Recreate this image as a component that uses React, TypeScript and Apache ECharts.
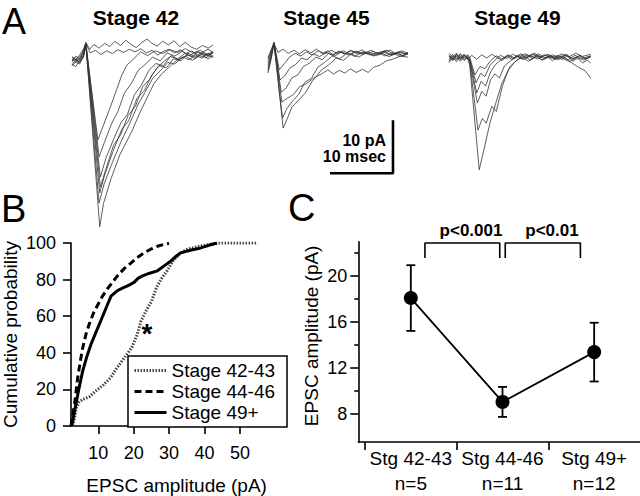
import React, { useEffect, useRef } from "react";
import * as echarts from "echarts";

const FONT = '"Liberation Sans", Arial, Helvetica, sans-serif';

// ---------------- Panel A: EPSC traces (t in ms, current in pA) ----------------
const stageTitles = ["Stage 42", "Stage 45", "Stage 49"];

const stage42Traces: number[][][] = [
  [[0,-1.6],[0.5,-1.0],[1.0,-1.4],[1.5,-0.6],[2.2,2.0],[4.4,-32.6],[5.0,-28.2],[6.2,-23.5],[7.6,-19],[9.5,-14.6],[10.8,-11],[11.9,-8.3],[13.0,-5.6],[14.2,-3.8],[15.5,-2.4],[16.6,-1.2],[17.6,-0.6],[18.6,-1.1],[19.6,-0.2],[20.6,-0.8],[21.5,0.1],[22.4,-0.5]],
  [[0,-2.2],[0.6,-1.5],[1.2,-1.9],[1.7,-0.8],[2.2,1.8],[4.3,-28.1],[5.1,-24.5],[6.4,-20.5],[7.8,-16.5],[9.2,-13],[10.5,-9.5],[11.6,-7.2],[12.8,-4.6],[14.0,-3.2],[15.2,-1.6],[16.3,-1.9],[17.4,-0.7],[18.5,-0.2],[19.6,-0.9],[20.7,0.3],[21.6,-0.4],[22.4,0.2]],
  [[0,-0.9],[0.6,-1.6],[1.2,-0.8],[1.8,-0.3],[2.2,1.9],[4.4,-26.2],[5.2,-22.8],[6.5,-18.4],[7.9,-14.2],[9.0,-12.6],[10.3,-8.4],[11.5,-6.9],[12.6,-4.1],[13.8,-2.2],[15.0,-2.6],[16.1,-0.9],[17.3,-1.3],[18.4,0.2],[19.5,-0.6],[20.6,-0.1],[21.6,-0.9],[22.4,-0.3]],
  [[0,-1.9],[0.6,-2.4],[1.2,-1.2],[1.8,-0.7],[2.2,1.6],[4.5,-25.1],[5.3,-22],[6.6,-17.2],[7.7,-15.3],[8.9,-11.6],[10.1,-9.8],[11.2,-6.2],[12.3,-4.8],[13.5,-2.6],[14.6,-1.4],[15.8,-0.3],[16.9,-1.1],[18.0,-0.4],[19.1,-1.2],[20.2,-0.3],[21.3,-0.7],[22.4,0.3]],
  [[0,-1.3],[0.6,-0.7],[1.2,-1.7],[1.8,-0.4],[2.2,1.7],[4.5,-23.2],[5.4,-19.6],[6.7,-15.8],[7.8,-12.9],[8.8,-11.4],[9.9,-7.7],[11.0,-5.9],[12.2,-3.1],[13.3,-1.8],[14.5,-2.2],[15.6,-0.5],[16.8,-0.9],[17.9,0.1],[19.0,-0.5],[20.1,0.4],[21.2,-0.2],[22.4,-0.6]],
  [[0,-0.6],[0.6,-1.3],[1.2,-0.5],[1.8,0.2],[2.2,2.1],[4.3,-19.4],[5.2,-16.5],[6.3,-13.1],[7.3,-10.8],[8.3,-7.4],[9.4,-5.6],[10.5,-3.1],[11.6,-2.0],[12.8,-0.6],[14.0,-1.3],[15.1,0.2],[16.3,-0.4],[17.5,0.5],[18.6,-0.3],[19.8,0.4],[21.0,-0.2],[22.4,0.3]],
  [[0,-2.0],[0.6,-1.2],[1.2,-1.5],[1.8,-0.5],[2.2,1.8],[4.1,-16.2],[5.0,-13.4],[6.0,-10.3],[7.0,-7.0],[7.9,-4.0],[8.7,-2.1],[9.8,-0.9],[10.9,0.4],[12.0,-0.3],[13.2,0.6],[14.4,0.1],[15.6,0.8],[16.8,0.3],[18.0,1.0],[19.2,0.2],[20.4,0.7],[21.5,-0.1],[22.4,0.4]],
  [[0,-1.1],[0.6,-0.4],[1.2,-0.9],[1.8,0.6],[2.2,2.2],[2.8,0.9],[3.5,1.8],[4.3,1.1],[5.2,2.0],[6.0,1.4],[6.8,2.4],[7.7,1.6],[8.5,2.6],[9.4,1.8],[10.2,1.2],[11.0,2.1],[11.9,2.8],[12.7,2.0],[13.5,1.5],[14.4,2.4],[15.3,1.7],[16.2,2.5],[17.1,1.4],[18.0,2.2],[18.9,1.3],[19.8,0.9],[20.7,1.6],[21.6,1.1],[22.4,1.7]],
  [[0,-0.5],[0.6,-1.1],[1.2,-0.2],[1.8,0.9],[2.2,2.0],[2.9,0.2],[3.7,0.7],[4.6,-0.1],[5.5,0.6],[6.4,0.1],[7.3,0.8],[8.2,0.3],[9.1,0.9],[10.0,0.4],[10.9,1.0],[11.8,0.2],[12.7,0.7],[13.6,-0.2],[14.5,0.5],[15.4,0.9],[16.3,0.2],[17.2,0.8],[18.1,0.1],[19.0,0.6],[19.9,-0.2],[20.8,0.4],[21.6,0.9],[22.4,0.3]],
];

const stage45Traces: number[][][] = [
  [[0,-3.0],[0.5,-0.5],[0.95,2.3],[2.4,-13.8],[3.0,-12.2],[3.8,-9.8],[4.8,-8.6],[5.9,-7.2],[7.0,-5.0],[8.5,-2.8],[9.6,-1.9],[10.8,-0.6],[12.0,-1.0],[13.2,0.2],[14.4,-0.4],[15.6,0.5],[16.8,-0.2],[18.0,0.4],[19.2,-0.3],[20.4,0.3],[21.4,-0.2],[22.2,0.2]],
  [[0,-2.6],[0.5,-0.2],[0.95,2.2],[2.3,-11.9],[3.0,-10.1],[3.9,-8.7],[4.9,-7.4],[5.8,-5.2],[6.9,-4.4],[7.9,-2.3],[9.0,-1.4],[10.2,-0.2],[11.4,-0.7],[12.6,0.4],[13.8,-0.3],[15.0,0.6],[16.2,0.0],[17.4,0.5],[18.6,-0.2],[19.8,0.4],[21.0,-0.3],[22.2,0.3]],
  [[0,-3.4],[0.5,-0.8],[0.95,2.1],[2.2,-8.9],[3.0,-8.2],[4.0,-7.5],[5.0,-6.0],[6.0,-5.5],[7.2,-4.4],[8.6,-3.5],[9.5,-2.8],[10.4,-3.6],[11.3,-2.9],[12.2,-3.4],[13.1,-2.6],[14.0,-3.3],[15.0,-2.7],[15.9,-3.3],[16.8,-2.3],[17.8,-1.9],[18.8,-1.1],[19.8,-0.8],[21.0,-0.2],[22.2,-0.4]],
  [[0,-2.0],[0.5,0.1],[0.95,2.3],[2.1,-7.0],[2.9,-6.2],[3.8,-4.3],[4.7,-3.8],[5.6,-2.2],[6.6,-1.5],[7.6,-0.4],[8.6,-0.9],[9.6,0.3],[10.6,-0.2],[11.7,0.6],[12.8,0.0],[13.9,0.7],[15.0,0.1],[16.1,0.5],[17.2,-0.1],[18.3,0.6],[19.4,0.0],[20.5,0.5],[21.4,-0.1],[22.2,0.4]],
  [[0,-1.4],[0.5,0.4],[0.95,2.4],[1.9,-4.7],[2.7,-3.9],[3.5,-2.4],[4.4,-1.8],[5.3,-0.6],[6.2,-0.9],[7.2,0.2],[8.2,-0.3],[9.2,0.5],[10.2,0.0],[11.2,0.7],[12.2,0.2],[13.3,0.8],[14.4,0.2],[15.5,0.6],[16.6,-0.1],[17.7,0.5],[18.8,0.9],[19.9,0.2],[21.0,0.6],[22.2,0.1]],
  [[0,-0.8],[0.5,0.8],[0.95,2.3],[1.8,-2.8],[2.6,-1.6],[3.4,-0.4],[4.3,0.3],[5.2,-0.2],[6.1,0.6],[7.0,0.0],[8.0,0.8],[9.0,0.2],[10.0,0.9],[11.0,0.3],[12.0,0.8],[13.0,0.1],[14.1,0.7],[15.2,0.2],[16.3,0.9],[17.4,0.3],[18.5,0.7],[19.6,0.0],[20.7,0.6],[21.6,0.2],[22.2,0.5]],
  [[0,-0.5],[0.5,1.0],[0.95,2.2],[1.6,0.5],[2.4,1.1],[3.2,0.3],[4.1,0.9],[5.0,0.2],[5.9,1.0],[6.8,0.4],[7.7,1.1],[8.6,0.3],[9.5,0.8],[10.4,0.0],[11.3,0.7],[12.2,0.2],[13.1,0.9],[14.0,0.3],[14.9,1.0],[15.8,0.2],[16.7,0.7],[17.6,0.0],[18.5,0.6],[19.4,0.9],[20.3,0.2],[21.2,0.8],[22.2,0.3]],
];

const stage49Traces: number[][][] = [
  [[0,0.3],[0.6,-0.5],[1.2,0.6],[1.8,-0.3],[2.4,0.5],[3.0,-0.2],[3.3,-1.5],[4.8,-21.1],[5.6,-17],[6.5,-12.3],[7.4,-8.6],[8.4,-4.8],[9.7,-1.6],[10.8,-0.4],[11.9,0.3],[13.0,-0.4],[14.1,0.5],[15.2,-0.2],[16.3,0.4],[17.4,-0.3],[18.5,0.5],[19.6,-0.1],[20.7,0.4],[21.7,-0.2],[22.5,0.3]],
  [[0,-0.6],[0.6,0.4],[1.2,-0.4],[1.8,0.7],[2.4,-0.3],[3.0,0.4],[3.3,-0.8],[4.6,-13.6],[5.3,-11.4],[5.9,-12.3],[6.8,-9.1],[7.5,-10.1],[8.5,-5.2],[9.4,-2.3],[10.4,-0.8],[11.5,0.2],[12.6,-0.6],[13.7,0.3],[14.8,-0.4],[15.9,0.4],[17.0,-0.3],[18.1,0.2],[19.2,-0.6],[20.3,0.1],[21.4,-0.4],[22.5,0.2]],
  [[0,0.6],[0.6,-0.2],[1.2,0.8],[1.8,0.0],[2.4,0.7],[3.0,-0.1],[3.3,-0.6],[4.5,-8.5],[5.2,-6.3],[5.9,-7.2],[6.6,-4.1],[7.3,-3.0],[8.0,-3.8],[8.8,-1.5],[9.8,-0.5],[10.8,0.4],[11.8,-0.3],[12.9,0.5],[14.0,-0.2],[15.1,0.6],[16.2,0.0],[17.3,0.5],[18.4,-0.3],[19.5,-0.9],[20.6,-1.8],[21.6,-2.4],[22.5,-3.8]],
  [[0,-0.9],[0.6,0.1],[1.2,-0.7],[1.8,0.3],[2.4,-0.5],[3.0,0.2],[3.3,-0.4],[4.4,-6.6],[5.1,-4.4],[5.8,-5.3],[6.6,-2.6],[7.4,-1.2],[8.3,-0.3],[9.3,0.5],[10.3,-0.2],[11.3,0.6],[12.3,0.0],[13.4,0.7],[14.5,0.1],[15.6,0.6],[16.7,-0.2],[17.8,0.4],[18.9,-0.3],[20.0,0.5],[21.1,-0.1],[22.5,0.4]],
  [[0,0.9],[0.6,0.2],[1.2,0.9],[1.8,-0.2],[2.4,0.6],[3.0,0.0],[3.3,-0.3],[4.3,-4.7],[5.0,-2.9],[5.7,-3.5],[6.5,-1.4],[7.3,-0.4],[8.2,0.5],[9.1,-0.1],[10.1,0.7],[11.1,0.1],[12.1,0.8],[13.1,0.2],[14.2,0.8],[15.3,0.0],[16.4,0.6],[17.5,0.1],[18.6,0.7],[19.7,-0.2],[20.8,0.5],[21.7,-0.1],[22.5,0.4]],
  [[0,-0.3],[0.6,0.7],[1.2,-0.1],[1.8,0.8],[2.4,0.1],[3.0,0.6],[3.3,0.1],[4.1,-3.2],[4.9,-1.6],[5.7,-2.0],[6.6,-0.5],[7.5,0.4],[8.4,-0.2],[9.4,0.6],[10.4,0.0],[11.4,0.8],[12.4,0.3],[13.5,0.9],[14.6,0.2],[15.7,0.7],[16.8,0.0],[17.9,0.8],[19.0,0.2],[20.1,0.9],[21.2,0.3],[22.5,0.7]],
  [[0,0.4],[0.6,-0.4],[1.2,0.3],[1.8,-0.6],[2.4,0.2],[3.0,-0.3],[3.6,0.5],[4.4,-0.2],[5.2,0.6],[6.0,0.0],[6.8,0.7],[7.6,0.1],[8.4,-0.5],[9.2,0.3],[10.0,-0.3],[10.8,0.5],[11.6,-0.2],[12.4,0.6],[13.2,-0.1],[14.0,0.4],[14.8,-0.4],[15.6,0.3],[16.4,-0.5],[17.2,0.2],[18.0,-0.3],[18.8,0.5],[19.6,-0.6],[20.4,-0.1],[21.2,-0.9],[22.0,-0.4],[22.5,-1.0]],
];

const scaleBarPA = 10;
const scaleBarMs = 10;
const scaleBarLabels = ["10 pA", "10 msec"];

// ---------------- Panel B: cumulative probability (%) vs amplitude (pA) ----------------
const cumSeriesNames = ["Stage 42-43", "Stage 44-46", "Stage 49+"];
const cumStage4243 = [[2.8,0],[3.3,5],[3.8,10],[4.6,13],[5.5,14.5],[7.5,16],[9.5,19.5],[11.5,22.5],[13.5,26.5],[15,31],[16.5,35],[18,39],[19.5,43],[21,50],[22,57],[23.5,63],[25,68],[26.5,76],[28,81],[29.5,85],[31,90],[33,94],[35,96.5],[38,98],[41,99],[44,100],[50,100],[55,100]];
const cumStage4446 = [[2.3,0],[2.8,6],[3.3,12],[3.8,20],[4.2,26.5],[4.9,35],[5.6,42.7],[6.5,50],[7.5,56],[8.6,61.5],[9.8,66],[11.2,71],[12.6,75],[14,78.5],[15.4,82],[17.3,86],[19.2,89],[21,92],[22.9,94.6],[24.8,96.6],[26.7,98.2],[28.5,99.2],[30,99.8]];
const cumStage49 = [[2.5,0],[3.1,6],[3.7,12],[4.6,21],[5.6,30],[6.7,37.5],[7.9,44.4],[9.3,51],[10.8,57.9],[12.2,64.5],[13.6,71],[15.3,73.8],[17.3,75.8],[18.7,77],[20.1,78.5],[21.3,80.8],[22.5,82],[24.5,83.5],[26.7,84.8],[28.6,87.5],[30.4,90],[31.8,92.5],[33.2,94.6],[36,96],[38.9,97.3],[41,98.6],[43.5,100]];
const cumXTicks = [10, 20, 30, 40, 50];

// ---------------- Panel C: mean EPSC amplitude ± SEM ----------------
const stageGroups = ["Stg 42-43", "Stg 44-46", "Stg 49+"];
const groupN = ["n=5", "n=11", "n=12"];
const meanAmp = [18.07, 9.06, 13.38];
const semAmp = [2.85, 1.3, 2.55];
const ampTicks = [8, 12, 16, 20];
const ampMinorTicks = [10, 14, 18, 22];
const comparisonLabels = ["p<0.001", "p<0.01"];

// ---------------- layout (pixels) ----------------
const PX_PER_MS = 6.3;
const PX_PER_PA = 5.3;
const A_XMAX = 22.4;
const A_YMAX = 4;
const A_YMIN = -36;
const aPanels = [
  { left: 72, baseline: 54 },
  { left: 268, baseline: 55 },
  { left: 449, baseline: 58 },
];

function buildOption() {
  const grids: any[] = aPanels.map((p) => ({
    left: p.left,
    top: p.baseline - A_YMAX * PX_PER_PA,
    width: A_XMAX * PX_PER_MS,
    height: (A_YMAX - A_YMIN) * PX_PER_PA,
  }));
  grids.push({ left: 70, top: 243, width: (58 - 2.3) * 3.56, height: 186 });
  grids.push({ left: 358.3, top: 241.7, width: 281.7, height: 201.3 });

  const axisLineStyle = { color: "#000", width: 1.6 };
  const xAxes: any[] = aPanels.map((_, i) => ({
    gridIndex: i, type: "value", min: 0, max: A_XMAX, show: false,
  }));
  const yAxes: any[] = aPanels.map((_, i) => ({
    gridIndex: i, type: "value", min: A_YMIN, max: A_YMAX, show: false,
  }));

  xAxes.push({
    gridIndex: 3, type: "value", min: 2.3, max: 58,
    axisLine: { show: true, onZero: false, lineStyle: axisLineStyle },
    axisTick: { show: true, customValues: cumXTicks, length: 8, lineStyle: axisLineStyle },
    axisLabel: { customValues: cumXTicks, fontSize: 18, color: "#000", fontFamily: FONT, margin: 18 },
    splitLine: { show: false },
    name: "EPSC amplitude (pA)", nameLocation: "middle", nameGap: 50,
    nameTextStyle: { fontSize: 19, color: "#000", fontFamily: FONT, padding: [0, 0, 0, 14] },
  });
  yAxes.push({
    gridIndex: 3, type: "value", min: 0, max: 100, interval: 20,
    axisLine: { show: true, onZero: false, lineStyle: axisLineStyle },
    axisTick: { show: true, length: 8, lineStyle: axisLineStyle },
    axisLabel: { fontSize: 18, color: "#000", fontFamily: FONT, margin: 15 },
    splitLine: { show: false },
    name: "Cumulative probability", nameLocation: "middle", nameGap: 51,
    nameTextStyle: { fontSize: 19, color: "#000", fontFamily: FONT },
  });

  xAxes.push({
    gridIndex: 4, type: "value", min: 0.427, max: 3.5,
    axisLine: { show: true, onZero: false, lineStyle: axisLineStyle },
    axisTick: { show: true, customValues: [0.5, 1.5, 2.5], length: 8, lineStyle: axisLineStyle },
    axisLabel: {
      customValues: [1, 2, 3], fontSize: 19, lineHeight: 25, color: "#000", fontFamily: FONT, margin: 4,
      formatter: (v: number) => {
        const i = Math.round(v) - 1;
        return stageGroups[i] + "\n" + groupN[i];
      },
    },
    splitLine: { show: false },
  });
  yAxes.push({
    gridIndex: 4, type: "value", min: 5.58, max: 22.96, position: "left",
    axisLine: { show: true, onZero: false, lineStyle: axisLineStyle },
    axisTick: { show: true, customValues: ampTicks, length: 8, lineStyle: axisLineStyle },
    axisLabel: { customValues: ampTicks, fontSize: 18, color: "#000", fontFamily: FONT, margin: 11 },
    splitLine: { show: false },
    name: "EPSC amplitude (pA)", nameLocation: "middle", nameGap: 37,
    nameTextStyle: { fontSize: 19, color: "#000", fontFamily: FONT, padding: [0, 0, 0, 12] },
  });
  yAxes.push({
    gridIndex: 4, type: "value", min: 5.58, max: 22.96, position: "left", offset: 0,
    axisLine: { show: false },
    axisTick: { show: true, customValues: ampMinorTicks, length: 4, lineStyle: axisLineStyle },
    axisLabel: { show: false },
    splitLine: { show: false },
  });

  const series: any[] = [];
  [stage42Traces, stage45Traces, stage49Traces].forEach((traces, s) => {
    traces.forEach((tr) => {
      series.push({
        type: "line", xAxisIndex: s, yAxisIndex: s, data: tr, symbol: "none",
        silent: true, clip: false, lineStyle: { color: "#333", width: 0.8 }, z: 2,
      });
    });
  });

  // scale bar drawn in the Stage 45 trace coordinates
  const sbT = 19.84;
  const sbV = -22.3;
  series.push({
    type: "line", xAxisIndex: 1, yAxisIndex: 1, symbol: "none", silent: true, clip: false,
    data: [[sbT - scaleBarMs, sbV], [sbT, sbV], [sbT, sbV + scaleBarPA]],
    lineStyle: { color: "#000", width: 2.6 },
  });

  const cumData = [cumStage4243, cumStage4446, cumStage49];
  const cumStyles = [
    { color: "#444", width: 3, type: [1.5, 1.5] },
    { color: "#000", width: 3, type: [7, 4] },
    { color: "#000", width: 3, type: "solid" },
  ];
  cumData.forEach((d, i) => {
    series.push({
      name: cumSeriesNames[i], type: "line", xAxisIndex: 3, yAxisIndex: 3, data: d,
      symbol: "none", silent: true, lineStyle: cumStyles[i], itemStyle: { color: cumStyles[i].color },
    });
  });

  // error bars
  series.push({
    type: "custom", xAxisIndex: 4, yAxisIndex: 4, silent: true, z: 3,
    data: meanAmp.map((m, i) => [i + 1, m - semAmp[i], m + semAmp[i]]),
    renderItem: (params: any, api: any) => {
      const x = api.value(0);
      const lo = api.coord([x, api.value(1)]);
      const hi = api.coord([x, api.value(2)]);
      const hw = 4.5;
      const st = { stroke: "#000", lineWidth: 1.8 };
      return {
        type: "group",
        children: [
          { type: "line", shape: { x1: lo[0], y1: lo[1], x2: hi[0], y2: hi[1] }, style: st },
          { type: "line", shape: { x1: lo[0] - hw, y1: lo[1], x2: lo[0] + hw, y2: lo[1] }, style: st },
          { type: "line", shape: { x1: hi[0] - hw, y1: hi[1], x2: hi[0] + hw, y2: hi[1] }, style: st },
        ],
      };
    },
  });
  series.push({
    type: "line", xAxisIndex: 4, yAxisIndex: 4, silent: true, z: 4,
    data: meanAmp.map((m, i) => [i + 1, m]),
    symbol: "circle", symbolSize: 14,
    itemStyle: { color: "#000" }, lineStyle: { color: "#000", width: 1.8 },
  });
  // significance brackets
  const bracketSpans = [[1.154, 1.97], [2.03, 2.85]];
  const bracketTop = 22.85;
  const bracketLeg = 21.55;
  bracketSpans.forEach(([a, b]) => {
    series.push({
      type: "line", xAxisIndex: 4, yAxisIndex: 4, silent: true, clip: false, symbol: "none",
      data: [[a, bracketLeg], [a, bracketTop], [b, bracketTop], [b, bracketLeg]],
      lineStyle: { color: "#000", width: 1.6 },
    });
  });

  const txt = (text: string, x: number, y: number, size: number, bold: boolean, align = "center") => ({
    type: "text", x, y, silent: true,
    style: {
      text, fontSize: size, fontWeight: bold ? "bold" : "normal", fontFamily: FONT,
      fill: "#000", align, verticalAlign: "middle",
    },
  });

  const graphics: any[] = [
    txt("A", 2, 21, 36, false, "left"),
    txt("B", 1, 209, 38, false, "left"),
    txt("C", 288, 208, 38, false, "left"),
    txt(stageTitles[0], 136, 17, 21, true),
    txt(stageTitles[1], 326.5, 17, 21, true),
    txt(stageTitles[2], 517.5, 17, 21, true),
    txt(scaleBarLabels[0], 386, 140, 16, true, "right"),
    txt(scaleBarLabels[1], 386, 156, 16, true, "right"),
    txt(comparisonLabels[0], 471, 230, 17, true),
    txt(comparisonLabels[1], 552, 230, 17, true),
    txt("*", 147, 333, 28, true),
  ];

  return {
    animation: false,
    backgroundColor: "#fff",
    textStyle: { fontFamily: FONT },
    grid: grids,
    xAxis: xAxes,
    yAxis: yAxes,
    legend: {
      data: cumSeriesNames, orient: "vertical", left: 128, top: 356,
      borderColor: "#000", borderWidth: 1.5, backgroundColor: "#fff",
      padding: [5, 12, 5, 5], itemGap: 2, itemWidth: 32, itemHeight: 14,
      selectedMode: false,
      itemStyle: { opacity: 0 },
      lineStyle: { width: 3 },
      textStyle: { fontSize: 19, color: "#000", fontFamily: FONT },
    },
    series,
    graphic: graphics,
  };
}

export default function App() {
  const ref = useRef<HTMLDivElement>(null);
  useEffect(() => {
    if (!ref.current) return;
    const chart = echarts.init(ref.current, null, { renderer: "svg" });
    chart.setOption(buildOption() as any);
    return () => chart.dispose();
  }, []);
  return (
    <div
      ref={ref}
      style={{ position: "fixed", left: 0, top: 0, width: 640, height: 496, background: "#fff" }}
    />
  );
}
